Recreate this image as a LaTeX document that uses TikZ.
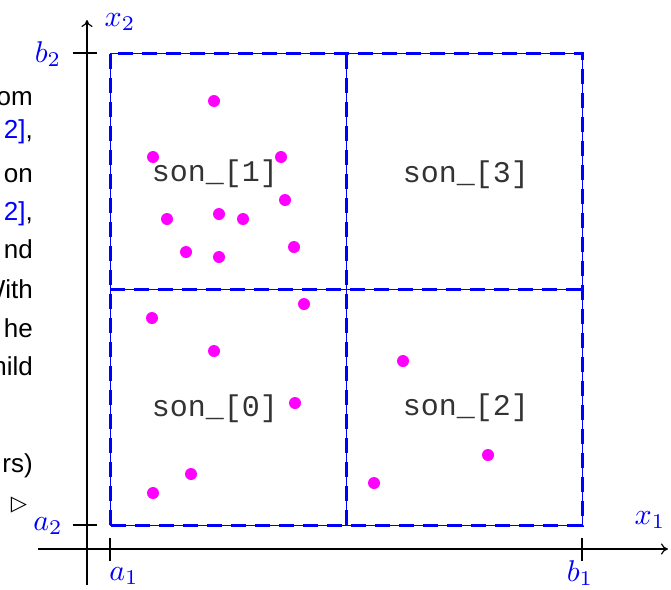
\documentclass[tikz,border=0pt]{standalone}
\usepackage{graphicx}
\usepackage{fontspec}
\setmainfont{Liberation Sans}
\setmonofont{Liberation Mono}
\newfontfamily\symfont{DejaVu Sans}
\usepackage{tikz}
\usetikzlibrary{arrows.meta,positioning,calc}
\definecolor{ptmag}{RGB}{255,0,255}
\definecolor{cellblue}{RGB}{0,0,255}
\newcommand{\bigmath}[1]{\scalebox{3.0}{$#1$}}

\begin{document}
\begin{tikzpicture}[
  x=1pt, y=-1pt,
  axis/.style={line width=1.2pt, -{To[length=7pt,width=11pt]}},
  tick/.style={line width=1.2pt},
  cellthin/.style={cellblue, line width=1pt},
  celldash/.style={cellblue, line width=3pt, dash pattern=on 15pt off 9pt},
  pt/.style={ptmag},
  lbl/.style={cellblue, inner sep=0pt},
  son/.style={font=\fontsize{30}{34}\ttfamily, text=black!80, inner sep=0pt, anchor=base},
  side/.style={font=\fontsize{26}{30}\selectfont, inner sep=0pt, anchor=base east}
]
\useasboundingbox (0,0) rectangle (671,589);
\begin{scope}
\clip (0,0) rectangle (671,589);
% cut-off text on the left
\node[side] (t1) at (33,105) {om};
\node[side] (t2) at (33,138) {\textcolor{cellblue}{2]},};
\node[side] (t3) at (33,182) {on};
\node[side] (t4) at (33,220) {\textcolor{cellblue}{2]},};
\node[side] (t5) at (33,258) {nd};
\node[side] (t6) at (33,298) {With};
\node[side] (t7) at (33,337) {he};
\node[side] (t8) at (33,375) {hild};
\node[side] (t9) at (33,472) {rs)};
\node[font=\fontsize{21}{24}\symfont, inner sep=0pt] (tri) at (19,505) {▷};
\end{scope}

% axes
\coordinate (xs) at (38,549);
\coordinate (xe) at (668,549);
\coordinate (ys) at (87,585);
\coordinate (ye) at (87,20);
\draw[axis] (xs) -- (xe);
\draw[axis] (ys) -- (ye);
\draw[tick] (110,538) -- (110,561);
\draw[tick] (582,538) -- (582,561);
\draw[tick] (73,525) -- (97,525);
\draw[tick] (73,53) -- (97,53);

% bounding box and its four children
\foreach \st in {cellthin, celldash} {
  \draw[\st] (110,525) rectangle (582,53);
  \draw[\st] (346,525) -- (346,53);
  \draw[\st] (110,289) -- (582,289);
}

\node[lbl] (a1) at (124,576) {\bigmath{a_1}};
\node[lbl] (b1) at (580,573) {\bigmath{b_1}};
\node[lbl] (x1) at (650,520) {\bigmath{x_1}};
\node[lbl] (a2) at (48,526) {\bigmath{a_2}};
\node[lbl] (b2) at (48,54) {\bigmath{b_2}};
\node[lbl] (x2) at (120,22) {\bigmath{x_2}};

\node[son] (s1) at (215,181) {son\_[1]};
\node[son] (s3) at (466,182) {son\_[3]};
\node[son] (s0) at (215,416) {son\_[0]};
\node[son] (s2) at (466,415) {son\_[2]};

% points
\foreach \p in {(214,101),(153,157),(281,157),(285,200),(167,219),(219,214),
                (243,219),(186,252),(219,257),(294,247),(304,304),(152,318),
                (214,351),(295,403),(191,474),(153,493),(403,361),(488,455),(374,483)}
  \fill[pt] \p circle (6);
\end{tikzpicture}
\end{document}
